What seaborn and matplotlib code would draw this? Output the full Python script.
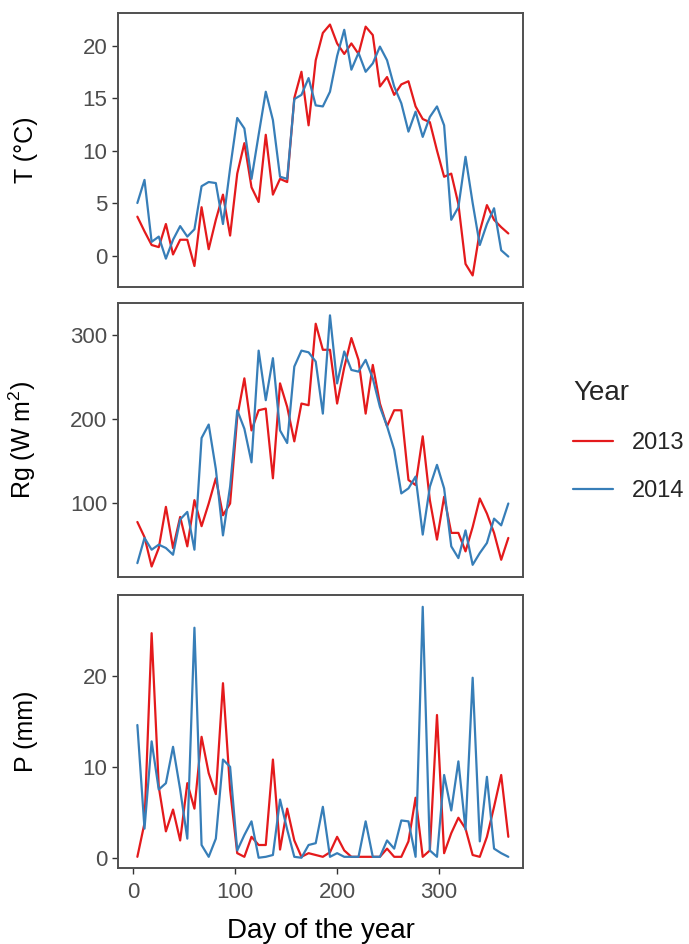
import matplotlib
matplotlib.use("Agg")
import matplotlib.pyplot as plt
import seaborn as sns
import pandas as pd

# Weekly sampling days (mid-week day of year)
days = [4, 11, 18, 25, 32, 39, 46, 53, 60, 67, 74, 81, 88, 95, 102, 109, 116, 123,
        130, 137, 144, 151, 158, 165, 172, 179, 186, 193, 200, 207, 214, 221, 228,
        235, 242, 249, 256, 263, 270, 277, 284, 291, 298, 305, 312, 319, 326, 333,
        340, 347, 354, 361, 368]

years = ["2013", "2014"]

# Mean air temperature (ºC)
t_2013 = [3.7, 2.3, 1.0, 0.8, 3.0, 0.1, 1.5, 1.5, -1.0, 4.6, 0.6, 3.4, 5.8, 1.9,
          7.8, 10.7, 6.5, 5.1, 11.5, 5.8, 7.3, 7.0, 15.0, 17.5, 12.4, 18.6, 21.2,
          22.0, 20.2, 19.2, 20.2, 19.2, 21.8, 21.0, 16.1, 17.0, 15.3, 16.3, 16.6,
          14.2, 13.0, 12.7, 10.0, 7.5, 7.8, 4.9, -0.8, -1.9, 2.3, 4.8, 3.4, 2.7, 2.1]
t_2014 = [5.0, 7.2, 1.3, 1.8, -0.3, 1.5, 2.8, 1.8, 2.5, 6.6, 7.0, 6.9, 3.0, 8.3,
          13.1, 12.1, 7.3, 11.5, 15.6, 12.9, 7.5, 7.3, 14.9, 15.3, 16.9, 14.3, 14.2,
          15.6, 19.0, 21.5, 17.7, 19.3, 17.5, 18.3, 19.9, 18.6, 16.1, 14.5, 11.8,
          13.7, 11.3, 13.2, 14.2, 12.4, 3.4, 4.6, 9.4, 5.0, 1.0, 3.0, 4.5, 0.5, -0.1]

# Global radiation (W m-2)
rg_2013 = [77, 59, 24, 46, 95, 46, 83, 48, 103, 72, 99, 129, 85, 99, 202, 248, 186,
           210, 212, 129, 242, 214, 173, 218, 216, 313, 282, 282, 218, 261, 296, 270,
           206, 264, 218, 191, 210, 210, 127, 121, 179, 103, 56, 107, 64, 64, 42, 71,
           105, 87, 64, 32, 58]
rg_2014 = [28, 58, 44, 50, 46, 38, 80, 89, 44, 177, 193, 140, 61, 119, 210, 188, 148,
           281, 222, 272, 186, 171, 262, 281, 279, 268, 206, 323, 242, 280, 258, 256,
           270, 248, 214, 191, 163, 111, 117, 131, 62, 119, 145, 117, 48, 34, 67, 26,
           40, 52, 81, 73, 99]

# Precipitation (mm)
p_2013 = [0.1, 3.8, 24.7, 7.8, 2.9, 5.3, 1.9, 8.2, 5.4, 13.3, 9.3, 7.0, 19.2, 7.5,
          0.5, 0.1, 2.3, 1.4, 1.4, 10.8, 0.9, 5.4, 1.9, 0.1, 0.5, 0.3, 0.1, 0.6, 2.3,
          0.8, 0.1, 0.1, 0.1, 0.1, 0.1, 1.0, 0.1, 0.1, 1.8, 6.6, 0.1, 0.8, 15.7, 0.5,
          2.7, 4.4, 3.2, 0.3, 0.1, 2.3, 5.6, 9.1, 2.3]
p_2014 = [14.6, 3.2, 12.8, 7.5, 8.2, 12.2, 7.5, 2.1, 25.3, 1.4, 0.1, 2.1, 10.8, 10.0,
          0.8, 2.5, 4.0, 0.0, 0.1, 0.3, 6.4, 3.1, 0.1, 0.0, 1.4, 1.6, 5.6, 0.1, 0.5,
          0.1, 0.1, 0.1, 4.0, 0.1, 0.1, 1.9, 1.0, 4.1, 4.0, 0.1, 27.6, 0.8, 0.1, 9.1,
          5.2, 10.6, 3.1, 19.8, 1.8, 8.9, 1.0, 0.5, 0.1]

y_ticks_t = [0, 5, 10, 15, 20]
y_ticks_rg = [100, 200, 300]
y_ticks_p = [0, 10, 20]
x_ticks = [0, 100, 200, 300]

df = pd.DataFrame({
    "Day": days * 2,
    "Year": [years[0]] * len(days) + [years[1]] * len(days),
    "T": t_2013 + t_2014,
    "Rg": rg_2013 + rg_2014,
    "P": p_2013 + p_2014,
})

sns.set_style("white")
plt.rcParams["font.family"] = ["Liberation Sans", "DejaVu Sans"]
plt.rcParams["mathtext.default"] = "regular"

palette = {"2013": "#E41A1C", "2014": "#377EB8"}
border = "#505050"
tick_col = "#4D4D4D"

fig = plt.figure(figsize=(6.89, 9.44), dpi=100)
W, H = 689.0, 944.0
left, width = 118 / W, 405 / W
ax_t = fig.add_axes([left, (H - 287) / H, width, 274 / H])
ax_rg = fig.add_axes([left, (H - 577) / H, width, 274 / H])
ax_p = fig.add_axes([left, (H - 868) / H, width, 273 / H])

panels = [
    (ax_t, "T", "T (°C)", y_ticks_t, (-3.0, 23.1)),
    (ax_rg, "Rg", r"Rg (W m$^{2}$)", y_ticks_rg, (11.5, 337.7)),
    (ax_p, "P", "P (mm)", y_ticks_p, (-1.13, 28.9)),
]

for ax, col, label, yt, ylim in panels:
    sns.lineplot(data=df, x="Day", y=col, hue="Year", palette=palette,
                 estimator=None, linewidth=1.6, ax=ax, legend=(ax is ax_rg))
    ax.set_xlim(-15, 382.4)
    ax.set_ylim(*ylim)
    ax.set_yticks(yt)
    ax.set_ylabel(label, fontsize=18, color="black")
    ax.yaxis.set_label_coords((38 - 118) / 405, 0.5)
    for s in ax.spines.values():
        s.set_visible(True)
        s.set_color(border)
        s.set_linewidth(1.4)
    ax.tick_params(axis="y", left=True, length=4.3, width=1.0, color="#333333",
                   pad=3.5, labelsize=16, labelcolor=tick_col)
    if ax is ax_p:
        ax.set_xticks(x_ticks)
        ax.tick_params(axis="x", bottom=True, length=4.3, width=1.0, color="#333333",
                       pad=5.5, labelsize=16, labelcolor=tick_col)
        ax.set_xlabel("Day of the year", fontsize=20, color="black", labelpad=11)
    else:
        ax.set_xticks([])
        ax.set_xlabel("")

handles, labels = ax_rg.get_legend_handles_labels()
ax_rg.get_legend().remove()
leg = fig.legend(handles, labels, title="Year", loc="upper left",
                 bbox_to_anchor=(573 / W, 1 - 380 / H), frameon=False,
                 fontsize=17, title_fontsize=20, handlelength=1.7, handletextpad=0.8,
                 labelspacing=1.1, borderpad=0, borderaxespad=0, alignment="left")
leg._legend_box.sep = 19

fig.savefig("out.png", dpi=100)
